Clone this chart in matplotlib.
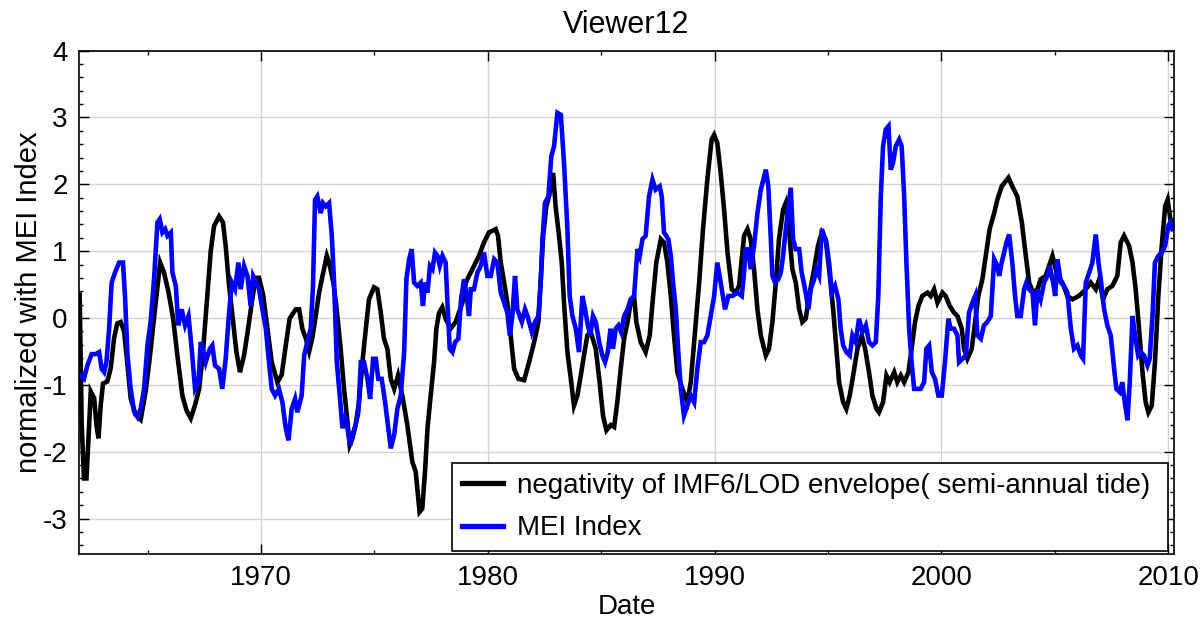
import matplotlib
matplotlib.use("Agg")
import matplotlib.pyplot as plt
from matplotlib.ticker import MultipleLocator

plt.rcParams['font.family'] = ['Liberation Sans', 'DejaVu Sans']
plt.rcParams['axes.unicode_minus'] = False

# negativity of the IMF6 / LOD envelope (semi-annual tide), normalized
lod_years = [
    1962.00, 1962.09, 1962.19, 1962.30, 1962.39, 1962.49, 1962.64, 1962.74, 1962.83, 1962.93,
    1963.03, 1963.22, 1963.37, 1963.52, 1963.66, 1963.81, 1963.96, 1964.11, 1964.25, 1964.47,
    1964.69, 1964.91, 1965.09, 1965.28, 1965.55, 1965.72, 1965.91, 1966.12, 1966.31, 1966.53,
    1966.71, 1966.90, 1967.09, 1967.27, 1967.44, 1967.63, 1967.78, 1967.93, 1968.15, 1968.32,
    1968.44, 1968.59, 1968.77, 1968.91, 1969.07, 1969.25, 1969.43, 1969.59, 1969.76, 1969.91,
    1970.09, 1970.28, 1970.47, 1970.72, 1970.91, 1971.09, 1971.26, 1971.53,
    1971.68, 1971.82, 1971.97, 1972.12, 1972.26, 1972.41, 1972.56, 1972.71, 1972.90, 1973.00,
    1973.19, 1973.32, 1973.51, 1973.66, 1973.81, 1973.91, 1974.03, 1974.17, 1974.32, 1974.47,
    1974.62, 1974.76, 1974.98, 1975.13, 1975.28, 1975.42, 1975.57, 1975.72, 1975.87, 1976.04,
    1976.23, 1976.45, 1976.67, 1976.82, 1976.99, 1977.11, 1977.23, 1977.34, 1977.48, 1977.63,
    1977.73, 1977.85, 1977.99, 1978.14, 1978.36, 1978.58, 1978.88, 1979.03, 1979.17, 1979.39,
    1979.61, 1979.83, 1980.05, 1980.35, 1980.45, 1980.57, 1980.72, 1980.86, 1981.01, 1981.16,
    1981.35,
    1981.60, 1981.82, 1981.97, 1982.11, 1982.23, 1982.33, 1982.44, 1982.58, 1982.70, 1982.88,
    1982.99, 1983.14, 1983.26, 1983.36, 1983.51, 1983.66, 1983.80, 1983.95, 1984.10, 1984.24,
    1984.39, 1984.54, 1984.76, 1984.93, 1985.08, 1985.23, 1985.42, 1985.57, 1985.71, 1985.86,
    1986.01, 1986.16, 1986.30, 1986.45, 1986.55, 1986.74, 1986.96, 1987.14, 1987.29, 1987.43,
    1987.63, 1987.77, 1987.92, 1988.07, 1988.21, 1988.36, 1988.58, 1988.80, 1988.95, 1989.10,
    1989.32, 1989.49, 1989.68, 1989.87, 1989.98, 1990.12, 1990.27, 1990.42, 1990.57, 1990.76,
    1990.93, 1991.08,
    1991.30, 1991.45, 1991.59, 1991.74, 1991.89, 1992.04, 1992.26, 1992.40, 1992.55, 1992.70,
    1992.84, 1993.02, 1993.14, 1993.28, 1993.43, 1993.58, 1993.73, 1993.87, 1994.02, 1994.17,
    1994.39, 1994.56, 1994.73, 1994.90, 1995.05, 1995.23, 1995.37, 1995.49, 1995.67, 1995.81,
    1995.96, 1996.11, 1996.30, 1996.49, 1996.64, 1996.81, 1996.96, 1997.14, 1997.25, 1997.43,
    1997.58, 1997.72, 1997.92, 1998.06, 1998.21, 1998.36, 1998.55, 1998.69, 1998.84, 1998.99,
    1999.16, 1999.39, 1999.53, 1999.68, 1999.83, 2000.05, 2000.19, 2000.37, 2000.56, 2000.71,
    2000.90, 2001.00, 2001.15, 2001.34, 2001.49, 2001.63, 2001.81, 2001.96, 2002.13, 2002.33,
    2002.47, 2002.66, 2002.96, 2003.13, 2003.35, 2003.55, 2003.69, 2003.87, 2004.05, 2004.24,
    2004.38, 2004.60, 2004.90, 2005.12, 2005.34, 2005.56, 2005.78, 2006.07, 2006.37, 2006.59,
    2006.81, 2006.96, 2007.13, 2007.32, 2007.54, 2007.76, 2007.91, 2008.06, 2008.28, 2008.43,
    2008.57, 2008.72, 2008.87, 2009.01, 2009.13, 2009.28, 2009.42, 2009.57, 2009.72, 2009.87,
    2009.98, 2010.12, 2010.22,
]
lod_values = [
    0.35, -1.60, -2.40, -2.40, -1.80, -1.10, -1.20, -1.60, -1.80, -1.30,
    -0.98, -0.95, -0.75, -0.30, -0.08, -0.06, -0.20, -0.70, -1.20, -1.45,
    -1.52, -1.10, -0.60, 0.00, 0.83, 0.68, 0.40, 0.00, -0.56, -1.16,
    -1.38, -1.50, -1.30, -1.06, -0.50, 0.33, 1.00, 1.38, 1.52, 1.43,
    1.08, 0.48, -0.06, -0.50, -0.81, -0.56, -0.16, 0.23, 0.60, 0.60,
    0.35, -0.16, -0.66, -0.96, -0.85, -0.41, -0.01, 0.13,
    0.13, -0.16, -0.30, -0.50, -0.30, 0.03, 0.38, 0.63, 0.93, 0.83,
    0.53, 0.18, -0.46, -1.06, -1.55, -1.90, -1.80, -1.60, -1.26, -0.66,
    -0.16, 0.28, 0.46, 0.43, 0.08, -0.31, -0.46, -0.91, -1.06, -0.86,
    -1.16, -1.60, -2.15, -2.30, -2.90, -2.85, -2.30, -1.65, -1.16, -0.66,
    -0.16, 0.08, 0.16, -0.01, -0.16, -0.06, 0.23, 0.53, 0.63, 0.78,
    0.93, 1.13, 1.28, 1.33, 1.23, 0.83, 0.53, 0.23, -0.26, -0.76,
    -0.91,
    -0.93, -0.66, -0.46, -0.26, -0.06, 0.53, 1.23, 1.67, 1.82, 2.17,
    1.67, 1.23, 0.83, 0.23, -0.51, -0.91, -1.31, -1.16, -0.86, -0.56,
    -0.26, -0.21, -0.46, -0.96, -1.46, -1.68, -1.60, -1.63, -1.26, -0.76,
    -0.31, -0.06, 0.23, 0.33, -0.06, -0.36, -0.51, -0.26, 0.33, 0.83,
    1.18, 1.13, 0.83, 0.33, -0.26, -0.81, -1.06, -1.26, -0.96, -0.36,
    0.53, 1.33, 2.07, 2.67, 2.74, 2.62, 2.17, 1.62, 0.98, 0.43,
    0.38, 0.48,
    1.23, 1.33, 1.18, 0.73, 0.13, -0.26, -0.56, -0.46, -0.06, 0.53,
    1.18, 1.62, 1.72, 1.33, 0.73, 0.53, 0.13, -0.06, -0.01, 0.33,
    0.73, 1.08, 1.28, 1.18, 0.73, 0.13, -0.46, -0.96, -1.26, -1.36,
    -1.16, -0.86, -0.46, -0.26, -0.46, -0.81, -1.16, -1.36, -1.41, -1.26,
    -0.86, -0.96, -0.81, -0.96, -0.86, -0.96, -0.81, -0.46, -0.06, 0.18,
    0.33, 0.38, 0.33, 0.43, 0.23, 0.38, 0.33, 0.18, 0.08, 0.03,
    -0.16, -0.46, -0.61, -0.46, -0.06, 0.33, 0.58, 0.93, 1.33, 1.57,
    1.77, 1.97, 2.10, 1.97, 1.82, 1.43, 1.03, 0.53, 0.38, 0.43,
    0.58, 0.63, 0.93, 0.63, 0.53, 0.33, 0.28, 0.33, 0.43, 0.53,
    0.43, 0.58, 0.28, 0.43, 0.48, 0.63, 1.13, 1.23, 1.08, 0.83,
    0.43, -0.16, -0.81, -1.26, -1.41, -1.31, -0.66, 0.33, 1.08, 1.67,
    1.77, 1.43, 1.45,
]

# Multivariate ENSO Index
mei_years = [
    1962.00, 1962.19, 1962.34, 1962.53, 1962.71, 1962.86, 1962.97, 1963.08, 1963.18, 1963.30,
    1963.41, 1963.56, 1963.74, 1963.91, 1964.00, 1964.11, 1964.25, 1964.40, 1964.55, 1964.69,
    1964.84, 1964.99, 1965.13, 1965.28, 1965.43, 1965.53, 1965.65, 1965.77, 1965.87, 1966.02,
    1966.09, 1966.24, 1966.35, 1966.50, 1966.65, 1966.80, 1966.94, 1967.09, 1967.24, 1967.34,
    1967.44, 1967.56, 1967.74, 1967.85, 1967.97, 1968.15, 1968.29, 1968.44, 1968.59, 1968.71,
    1968.85, 1969.00, 1969.10, 1969.25, 1969.40, 1969.54, 1969.65, 1969.79, 1969.91, 1970.06,
    1970.21, 1970.32, 1970.47, 1970.62, 1970.79, 1970.94, 1971.09, 1971.21, 1971.35, 1971.50,
    1971.60,
    1971.79, 1971.90, 1972.04, 1972.19, 1972.29, 1972.38, 1972.48, 1972.63, 1972.73, 1972.85,
    1973.00, 1973.12, 1973.22, 1973.34, 1973.47, 1973.59, 1973.70, 1973.81, 1973.93, 1974.03,
    1974.17, 1974.29, 1974.40, 1974.54, 1974.69, 1974.81, 1974.94, 1975.06, 1975.17, 1975.32,
    1975.47, 1975.61, 1975.72, 1975.87, 1976.01, 1976.16, 1976.31, 1976.41, 1976.53, 1976.64,
    1976.75, 1976.89, 1977.04, 1977.14, 1977.23, 1977.34, 1977.45, 1977.56, 1977.67, 1977.78,
    1977.88, 1978.00, 1978.14, 1978.22, 1978.32, 1978.44, 1978.56, 1978.70, 1978.82, 1978.95,
    1979.07, 1979.17, 1979.25, 1979.39, 1979.54, 1979.69, 1979.83, 1979.98, 1980.13, 1980.28,
    1980.42, 1980.57, 1980.72, 1980.86, 1980.97, 1981.08, 1981.20, 1981.30,
    1981.50, 1981.64, 1981.75, 1981.94, 1982.08, 1982.23, 1982.33, 1982.41, 1982.52, 1982.67,
    1982.80, 1982.92, 1983.07, 1983.22, 1983.36, 1983.51, 1983.61, 1983.73, 1983.88, 1984.02,
    1984.17, 1984.29, 1984.41, 1984.52, 1984.64, 1984.76, 1984.91, 1985.05, 1985.17, 1985.29,
    1985.41, 1985.52, 1985.64, 1985.76, 1985.88, 1986.01, 1986.16, 1986.30, 1986.45, 1986.60,
    1986.70, 1986.82, 1986.96, 1987.11, 1987.26, 1987.40, 1987.58, 1987.67, 1987.77, 1987.96,
    1988.07, 1988.17, 1988.29, 1988.40, 1988.51, 1988.65, 1988.80, 1988.95, 1989.10, 1989.24,
    1989.39, 1989.54, 1989.68, 1989.83, 1989.98, 1990.12, 1990.27, 1990.46, 1990.61, 1990.79,
    1991.01,
    1991.20, 1991.30, 1991.37, 1991.49, 1991.59, 1991.74, 1991.89, 1992.04, 1992.26, 1992.37,
    1992.48, 1992.55, 1992.67, 1992.81, 1992.92, 1993.02, 1993.14, 1993.26, 1993.36, 1993.46,
    1993.58, 1993.73, 1993.84, 1993.99, 1994.14, 1994.24, 1994.39, 1994.49, 1994.61, 1994.73,
    1994.83, 1994.93, 1995.05, 1995.17, 1995.31, 1995.46, 1995.56, 1995.67, 1995.81, 1995.96,
    1996.08, 1996.22, 1996.37, 1996.52, 1996.67, 1996.81, 1996.96, 1997.11, 1997.22, 1997.33,
    1997.43, 1997.55, 1997.67, 1997.77, 1997.87, 1997.99, 1998.14, 1998.25, 1998.36, 1998.46,
    1998.58, 1998.69, 1998.80, 1998.94, 1999.09, 1999.24, 1999.34, 1999.46, 1999.58, 1999.72,
    1999.87, 2000.02, 2000.16, 2000.31, 2000.41, 2000.56, 2000.71,
    2000.78, 2000.93, 2001.08, 2001.22, 2001.37, 2001.49, 2001.59, 2001.74, 2001.88, 2002.03,
    2002.18, 2002.25, 2002.33, 2002.47, 2002.55, 2002.66, 2002.77, 2002.87, 2002.99, 2003.13,
    2003.25, 2003.35, 2003.50, 2003.65, 2003.75, 2003.87, 2004.02, 2004.13, 2004.24, 2004.38,
    2004.53, 2004.68, 2004.78, 2004.93, 2005.02, 2005.12, 2005.27, 2005.41, 2005.56, 2005.71,
    2005.85, 2006.00, 2006.15, 2006.25, 2006.37, 2006.52, 2006.66, 2006.81, 2006.93, 2007.03,
    2007.18, 2007.32, 2007.47, 2007.62, 2007.72, 2007.87, 2007.98, 2008.09, 2008.21, 2008.31,
    2008.43, 2008.54, 2008.68, 2008.79, 2008.94, 2009.09, 2009.19, 2009.31, 2009.42, 2009.57,
    2009.72, 2009.87, 2010.01, 2010.09, 2010.19,
]
mei_values = [
    -0.85, -0.91, -0.71, -0.54, -0.54, -0.51, -0.76, -0.81, -0.66, -0.16,
    0.53, 0.68, 0.83, 0.83, 0.33, -0.56, -1.06, -1.40, -1.48, -1.36,
    -1.06, -0.41, -0.06, 0.58, 1.43, 1.48, 1.28, 1.33, 1.23, 1.28,
    0.68, 0.48, -0.11, 0.13, -0.11, 0.03, -0.46, -1.06, -0.96, -0.36,
    -0.46, -0.66, -0.46, -0.41, -0.71, -0.76, -1.06, -0.61, 0.08, 0.53,
    0.43, 0.83, 0.43, 0.78, 0.63, 0.18, 0.63, 0.53, 0.43, 0.13,
    -0.16, -0.56, -1.06, -1.16, -1.06, -1.26, -1.65, -1.83, -1.36, -1.21,
    -1.41,
    -1.16, -0.56, -0.36, -0.16, 0.48, 1.77, 1.82, 1.57, 1.72, 1.67,
    1.72, 1.23, 0.53, -0.66, -1.16, -1.65, -1.50, -1.65, -1.90, -1.75,
    -1.60, -1.41, -0.66, -0.66, -0.91, -1.21, -0.61, -0.61, -0.91, -0.91,
    -1.26, -1.65, -1.95, -1.75, -1.36, -1.16, -0.51, 0.58, 0.88, 1.03,
    0.53, 0.48, 0.53, 0.18, 0.53, 0.38, 0.78, 0.73, 0.98, 0.93,
    0.78, 0.93, 0.83, 0.23, -0.46, -0.51, -0.36, -0.31, 0.28, 0.58,
    0.33, 0.03, 0.43, 0.43, 0.68, 0.78, 0.98, 0.63, 0.63, 0.88,
    0.83, 0.38, 0.23, 0.08, -0.26, 0.03, 0.63, 0.13,
    -0.06, 0.13, 0.03, -0.21, -0.06, 0.03, 0.53, 1.18, 1.72, 1.82,
    2.42, 2.57, 3.07, 3.04, 2.32, 1.33, 0.33, 0.03, -0.16, -0.51,
    0.33, 0.13, -0.11, -0.26, 0.03, -0.06, -0.36, -0.56, -0.66, -0.51,
    -0.16, -0.46, -0.16, -0.11, -0.21, 0.03, 0.13, 0.28, 0.33, 1.03,
    0.93, 1.18, 1.23, 1.82, 2.07, 1.92, 1.97, 1.82, 1.28, 1.18,
    0.93, 0.53, 0.13, -0.51, -1.06, -1.46, -1.31, -1.16, -1.26, -0.76,
    -0.36, -0.36, -0.26, 0.03, 0.33, 0.83, 0.53, 0.13, 0.33, 0.33,
    0.38,
    0.33, 0.68, 1.03, 1.03, 0.73, 1.08, 1.57, 1.92, 2.22, 1.97,
    1.18, 0.63, 0.53, 0.58, 0.68, 0.93, 1.33, 1.67, 1.95, 1.18,
    1.03, 1.03, 0.68, 0.43, 0.13, 0.43, 0.58, 0.73, 0.63, 1.33,
    1.23, 1.13, 0.83, 0.38, 0.48, 0.28, -0.16, -0.41, -0.51, -0.56,
    -0.26, -0.36, -0.01, -0.21, -0.11, -0.36, -0.41, -0.36, 0.33, 1.82,
    2.57, 2.82, 2.87, 2.22, 2.32, 2.57, 2.67, 2.57, 1.82, 0.83,
    -0.16, -0.66, -1.06, -1.06, -1.06, -0.96, -0.46, -0.41, -0.81, -0.91,
    -1.16, -1.16, -0.66, -0.01, -0.16, -0.16, -0.26,
    -0.66, -0.61, -0.56, 0.08, 0.23, 0.33, -0.26, -0.31, -0.11, -0.06,
    0.03, 0.43, 0.88, 0.78, 0.63, 0.83, 0.98, 1.13, 1.25, 0.83,
    0.33, 0.03, 0.03, 0.43, 0.53, 0.43, 0.38, -0.11, 0.43, 0.28,
    0.53, 0.63, 0.78, 0.53, 0.33, 0.88, 0.53, 0.48, 0.38, -0.16,
    -0.46, -0.41, -0.56, -0.61, 0.53, 0.68, 0.83, 1.25, 0.83, 0.58,
    0.13, -0.11, -0.26, -0.76, -1.06, -1.11, -0.96, -1.26, -1.53, -0.96,
    0.03, -0.26, -0.56, -0.51, -0.56, -0.71, -0.61, 0.03, 0.83, 0.93,
    0.98, 1.08, 1.38, 1.43, 1.33,
]

lod_label = 'negativity of IMF6/LOD envelope( semi-annual tide)'
mei_label = 'MEI Index'

fig = plt.figure(figsize=(12.02, 6.2), dpi=100)
ax = fig.add_axes([0.0657, 0.1065, 0.911, 0.8118])

ax.plot(lod_years, lod_values, color='black', lw=3.3, label=lod_label,
        solid_joinstyle='miter')
ax.plot(mei_years, mei_values, color='#0000ff', lw=3.3, label=mei_label,
        solid_joinstyle='miter')

ax.set_xlim(1961.97, 2010.26)
ax.set_ylim(-3.53, 4)
ax.xaxis.set_major_locator(MultipleLocator(10))
ax.xaxis.set_minor_locator(MultipleLocator(5))
ax.yaxis.set_major_locator(MultipleLocator(1))
ax.yaxis.set_minor_locator(MultipleLocator(0.2))

ax.grid(True, which='major', color='#d4d4d4', lw=1.0)
ax.set_axisbelow(True)
ax.tick_params(which='both', direction='in', top=True, right=True,
               color='black', width=1.0, labelsize=20)
ax.tick_params(which='major', length=7, pad=8)
ax.tick_params(which='minor', length=3)
for sp in ax.spines.values():
    sp.set_linewidth(1.2)
    sp.set_color('black')

ax.set_title('Viewer12', fontsize=22, pad=13)
ax.set_xlabel('Date', fontsize=20, labelpad=2)
ax.set_ylabel('normalized with MEI Index', fontsize=21, labelpad=0)

leg = ax.legend(loc='lower left', bbox_to_anchor=(0.3406, 0.006, 0.654, 0.1808),
                mode='expand', fontsize=20, frameon=True, fancybox=False,
                edgecolor='black', framealpha=1, borderaxespad=0,
                handlelength=1.5, handletextpad=0.5, borderpad=0.35,
                labelspacing=0.6)
leg.get_frame().set_linewidth(1.2)
for line in leg.get_lines():
    line.set_linewidth(3.8)

fig.savefig('out.png', dpi=100)
